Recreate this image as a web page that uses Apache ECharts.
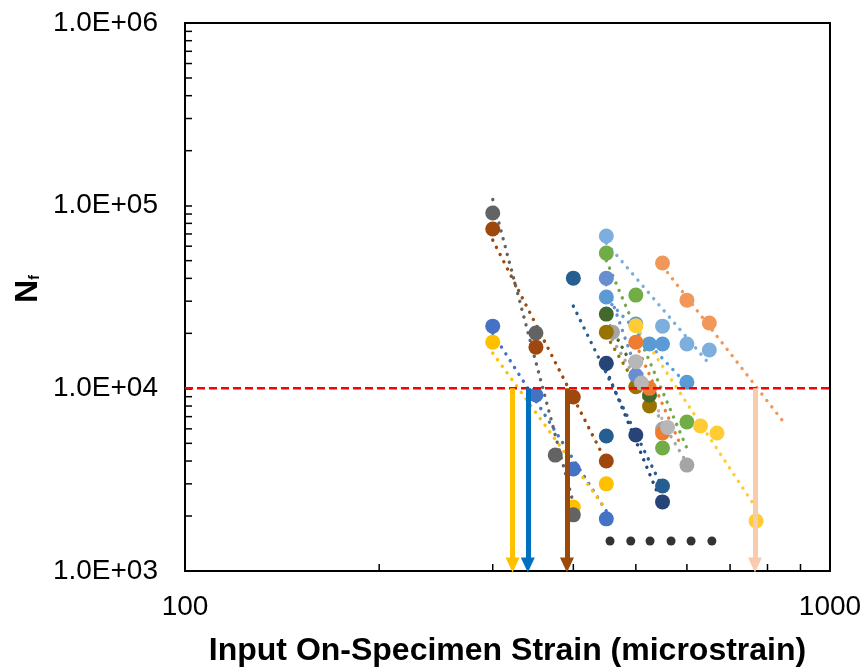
<!DOCTYPE html>
<html>
<head>
<meta charset="utf-8">
<script src="https://cdn.jsdelivr.net/npm/echarts@6/dist/echarts.min.js"></script>
<style>
  html, body { margin: 0; padding: 0; background: #ffffff; }
  #chart { width: 864px; height: 667px; }
</style>
</head>
<body>
<div id="chart"></div>
<script>
// Fatigue results: [strain (microstrain), cycles to failure]
const mixBlue       = [[300, 21900], [350, 9190], [400, 3620], [450, 1930]];
const mixGold       = [[300, 17900], [400, 2240], [450, 3000]];
const mixSilver     = [[460, 20300], [550, 5990], [600, 3800]];
const mixSky        = [[450, 68200], [550, 21900], [600, 17500], [650, 16200]];
const mixGreen      = [[450, 55000], [500, 32400], [550, 4710], [600, 6540]];
const mixNavy       = [[450, 13700], [500, 5550], [550, 2390]];
const mixRust       = [[300, 74500], [350, 16800], [400, 8960], [450, 4000]];
const mixDarkGray   = [[300, 91100], [350, 20100], [375, 4310], [400, 2030]];
const mixOlive      = [[450, 20300], [500, 10200], [525, 8000]];
const mixSteel      = [[400, 40100], [450, 5480], [550, 2920]];
const mixForest     = [[450, 25500], [525, 9200]];
const mixPeriwinkle = [[450, 40100], [500, 11800]];
const mixCornflower = [[450, 31600], [500, 22500], [525, 17500], [550, 17500], [600, 10800]];
const mixOrange     = [[500, 17900], [525, 10000], [550, 5700]];
const mixPale       = [[500, 14000], [510, 10700], [560, 6100]];
const mixSalmon     = [[550, 48500], [600, 30400], [650, 22800]];
const mixYellow     = [[500, 22000], [630, 6220], [668, 5690], [768, 1880]];

// Power-law trend lines (end points)
const trendBlue       = [[300, 20000], [450, 2130]];
const trendGold       = [[300, 15600], [450, 2160]];
const trendSilver     = [[460, 18500], [600, 3900]];
const trendSky        = [[450, 62400], [650, 13600]];
const trendGreen      = [[450, 50000], [600, 4700]];
const trendNavy       = [[450, 12600], [550, 2300]];
const trendRust       = [[300, 64800], [450, 3950]];
const trendDarkGray   = [[300, 108000], [400, 2350]];
const trendOlive      = [[450, 19500], [525, 7900]];
const trendSteel      = [[400, 28200], [550, 2850]];
const trendForest     = [[450, 24000], [530, 8500]];
const trendPeriwinkle = [[450, 37000], [510, 10500]];
const trendCornflower = [[450, 31000], [600, 10500]];
const trendOrange     = [[500, 17500], [585, 5000]];
const trendPale       = [[500, 14500], [560, 5800]];
const trendSalmon     = [[550, 46700], [845, 6620]];
const trendYellow     = [[500, 22000], [768, 2210]];

// Endurance criterion and strain where each trend reaches it
const criterionCycles = 10000;
const arrowStrain = [322, 340, 391, 765];
const arrowColors = ['#FFC000', '#0070C0', '#9C4A0A', '#F8CBAD'];
// Continuation marks
const moreStrain = [456, 491, 526, 567, 609, 656];
const moreCycles = [1460, 1460, 1460, 1460, 1460, 1460];

// Axis ranges and minor tick values
const xRange = [100, 1000];
const yRange = [1000, 1000000];
const xMinor = [200, 300, 400, 500, 600, 700, 800, 900];
const yMinor = [2e3, 3e3, 4e3, 5e3, 6e3, 7e3, 8e3, 9e3,
                2e4, 3e4, 4e4, 5e4, 6e4, 7e4, 8e4, 9e4,
                2e5, 3e5, 4e5, 5e5, 6e5, 7e5, 8e5, 9e5];

const groups = [
  { pts: mixBlue, trend: trendBlue, color: '#4472C4' },
  { pts: mixGold, trend: trendGold, color: '#FFC000' },
  { pts: mixSilver, trend: trendSilver, color: '#A5A5A5' },
  { pts: mixSky, trend: trendSky, color: '#7CAFDD' },
  { pts: mixGreen, trend: trendGreen, color: '#70AD47' },
  { pts: mixNavy, trend: trendNavy, color: '#264478' },
  { pts: mixRust, trend: trendRust, color: '#9E480E' },
  { pts: mixDarkGray, trend: trendDarkGray, color: '#636363' },
  { pts: mixOlive, trend: trendOlive, color: '#997300' },
  { pts: mixSteel, trend: trendSteel, color: '#255E91' },
  { pts: mixForest, trend: trendForest, color: '#43682B' },
  { pts: mixPeriwinkle, trend: trendPeriwinkle, color: '#698ED0' },
  { pts: mixCornflower, trend: trendCornflower, color: '#5B9BD5' },
  { pts: mixOrange, trend: trendOrange, color: '#ED7D31' },
  { pts: mixPale, trend: trendPale, color: '#B7B7B7' },
  { pts: mixSalmon, trend: trendSalmon, color: '#F1975A' },
  { pts: mixYellow, trend: trendYellow, color: '#FFCD33' }
];

const FONT = '"Liberation Sans", Arial, sans-serif';
const series = [];

groups.forEach(function (g) {
  series.push({
    type: 'line', data: g.trend, symbol: 'none', silent: true, z: 2,
    lineStyle: { color: g.color, width: 3.4, type: [0.1, 8], cap: 'round' }
  });
});
groups.forEach(function (g) {
  series.push({
    type: 'scatter', data: g.pts, symbol: 'circle', symbolSize: 15, z: 3,
    itemStyle: { color: g.color, opacity: 1 }
  });
});

// Red dashed criterion line with arrows dropping to the strain axis
series.push({
  type: 'line', z: 5, symbol: 'none', silent: true,
  data: [[xRange[0], criterionCycles], [xRange[1], criterionCycles]],
  lineStyle: { color: '#FF0000', width: 2.5, type: [8, 4] },
  markLine: {
    silent: true, animation: false, z: 6,
    symbol: ['none', 'triangle'], symbolSize: [14, 15],
    label: { show: false },
    lineStyle: { width: 5, type: 'solid', opacity: 1 },
    data: arrowStrain.map(function (x, i) {
      return [
        { coord: [x, criterionCycles], lineStyle: { color: arrowColors[i] }, itemStyle: { color: arrowColors[i] } },
        { coord: [x, 1080] }
      ];
    })
  }
});

series.push({
  type: 'scatter', z: 4, symbolSize: 9,
  data: moreStrain.map(function (x, i) { return [x, moreCycles[i]]; }),
  itemStyle: { color: '#000000' }
});

// Minor ticks on both log axes, pointing into the plot
const tickData = xMinor.map(function (v) { return [v, yRange[0], 0]; })
  .concat(yMinor.map(function (v) { return [xRange[0], v, 1]; }));
series.push({
  type: 'custom', z: 7, silent: true,
  data: tickData,
  renderItem: function (params, api) {
    const p = api.coord([api.value(0), api.value(1)]);
    const vertical = api.value(2) === 0;
    return {
      type: 'line',
      shape: vertical
        ? { x1: p[0], y1: p[1], x2: p[0], y2: p[1] - 7 }
        : { x1: p[0], y1: p[1], x2: p[0] + 7, y2: p[1] },
      style: { stroke: '#000', lineWidth: 1.5 }
    };
  }
});

const chart = echarts.init(document.getElementById('chart'), null, { renderer: 'canvas' });
chart.setOption({
  animation: false,
  backgroundColor: '#ffffff',
  grid: {
    left: 185, right: 34, top: 23, bottom: 96,
    containLabel: false, outerBoundsMode: 'none',
    show: true, borderColor: '#000', borderWidth: 2, backgroundColor: 'transparent'
  },
  xAxis: {
    type: 'log', logBase: 10, min: xRange[0], max: xRange[1],
    name: 'Input On-Specimen Strain (microstrain)',
    nameLocation: 'middle', nameGap: 64,
    nameTextStyle: { fontFamily: FONT, fontWeight: 'bold', fontSize: 32, color: '#000' },
    axisLine: { lineStyle: { color: '#000', width: 2 } },
    axisTick: { inside: true, length: 7, lineStyle: { color: '#000', width: 1.5 } },
    splitLine: { show: false },
    axisLabel: {
      fontFamily: FONT, fontSize: 28, color: '#000', margin: 22,
      formatter: function (v) { return String(Math.round(v)); }
    }
  },
  yAxis: {
    type: 'log', logBase: 10, min: yRange[0], max: yRange[1],
    axisLine: { lineStyle: { color: '#000', width: 2 } },
    axisTick: { inside: true, length: 7, lineStyle: { color: '#000', width: 1.5 } },
    splitLine: { show: false },
    axisLabel: {
      fontFamily: FONT, fontSize: 28, color: '#000', margin: 27,
      formatter: function (v) {
        const e = Math.round(Math.log10(v));
        return '1.0E+' + (e < 10 ? '0' : '') + e;
      }
    }
  },
  graphic: [{
    type: 'text', x: 28, y: 289, rotation: Math.PI / 2, silent: true,
    style: {
      text: '{n|N}{f|f}', align: 'center', verticalAlign: 'middle',
      rich: {
        n: { fontFamily: FONT, fontWeight: 'bold', fontSize: 32, fill: '#000' },
        f: { fontFamily: FONT, fontWeight: 'bold', fontSize: 14, fill: '#000', padding: [14, 0, 0, 0] }
      }
    }
  }],
  series: series
});
</script>
</body>
</html>
